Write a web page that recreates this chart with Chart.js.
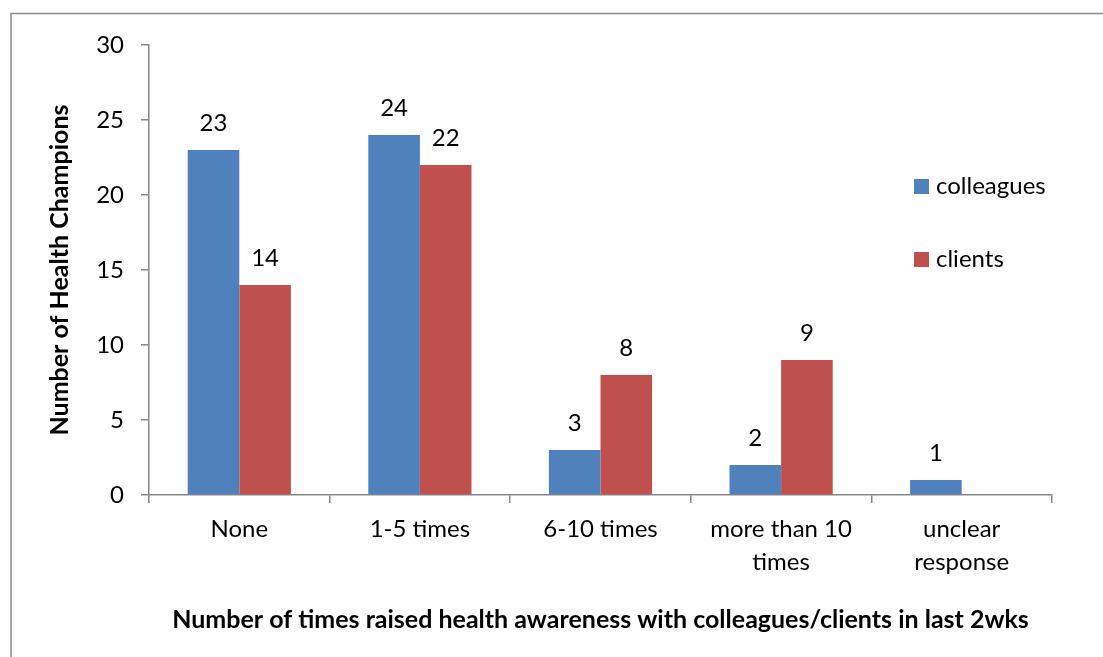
<!DOCTYPE html>
<html>
<head>
<meta charset="utf-8">
<script src="https://cdn.jsdelivr.net/npm/chart.js@4"></script>
<style>
  body { margin: 0; background: #fff; }
  #wrap { width: 1103px; height: 657px; position: relative; }
</style>
</head>
<body>
<div id="wrap"><canvas id="chart"></canvas></div>
<script>
const categories = ["None", "1-5 times", "6-10 times", ["more than 10", "times"], ["unclear", "response"]];
const colleagues = [23, 24, 3, 2, 1];
const clients = [14, 22, 8, 9, null];
const yTicks = [0, 5, 10, 15, 20, 25, 30];

const FONT = "Lato, 'Open Sans', sans-serif";
const AXIS = "#868686";

// value labels over each bar
const barLabels = {
  id: "barLabels",
  afterDatasetsDraw(chart) {
    const ctx = chart.ctx;
    ctx.save();
    ctx.font = "24px " + FONT;
    ctx.fillStyle = "#000";
    ctx.textAlign = "center";
    ctx.textBaseline = "middle";
    chart.data.datasets.forEach((ds, i) => {
      chart.getDatasetMeta(i).data.forEach((bar, j) => {
        if (ds.data[j] == null) return;
        ctx.fillText(ds.data[j], bar.x, bar.y - 27);
      });
    });
    ctx.restore();
  }
};

// legend sits inside the plot area like the Excel original
const sideLegend = {
  id: "sideLegend",
  afterDraw(chart) {
    const ctx = chart.ctx;
    ctx.save();
    ctx.font = "24px " + FONT;
    ctx.textBaseline = "middle";
    chart.data.datasets.forEach((ds, i) => {
      const y = 186 + i * 73;
      ctx.fillStyle = ds.backgroundColor;
      ctx.fillRect(914, y - 7, 15, 15);
      ctx.fillStyle = "#000";
      ctx.fillText(ds.label, 936, y);
    });
    ctx.restore();
  }
};

const frame = {
  id: "frame",
  beforeDraw(chart) {
    const ctx = chart.ctx;
    ctx.save();
    ctx.strokeStyle = "#8c8c8c";
    ctx.lineWidth = 1.5;
    ctx.strokeRect(11, 13.5, 1200, 1000);
    ctx.restore();
  }
};

new Chart(document.getElementById("chart"), {
  type: "bar",
  data: {
    labels: categories,
    datasets: [
      { label: "colleagues", data: colleagues, backgroundColor: "#4F81BD" },
      { label: "clients", data: clients, backgroundColor: "#C0504D" }
    ]
  },
  options: {
    responsive: true,
    maintainAspectRatio: false,
    animation: false,
    layout: { padding: { top: 45, right: 51, left: 0, bottom: 0 } },
    datasets: { bar: { categoryPercentage: 2 / 3.5, barPercentage: 1 } },
    plugins: { legend: { display: false }, tooltip: { enabled: false } },
    scales: {
      x: {
        afterFit: (s) => { s.height = 162; },
        grid: { drawOnChartArea: false, drawTicks: true, tickLength: 8, color: AXIS, lineWidth: 1.5 },
        border: { color: AXIS, width: 1.5 },
        ticks: { color: "#000", padding: 9, font: { family: FONT, size: 24, lineHeight: 1.4 }, maxRotation: 0 },
        title: {
          display: true,
          text: "Number of times raised health awareness with colleagues/clients in last 2wks",
          color: "#000",
          font: { family: FONT, size: 25, weight: "bold", lineHeight: 1.2 },
          padding: { top: 0, bottom: 22 }
        }
      },
      y: {
        min: 0,
        max: 30,
        afterFit: (s) => { s.width = 149; },
        afterBuildTicks: (s) => { s.ticks = yTicks.map(v => ({ value: v })); },
        grid: { drawOnChartArea: false, drawTicks: true, tickLength: 8, color: AXIS, lineWidth: 1.5 },
        border: { color: AXIS, width: 1.5 },
        ticks: { color: "#000", padding: 17, font: { family: FONT, size: 24 } },
        title: {
          display: true,
          text: "Number of Health Champions",
          color: "#000",
          font: { family: FONT, size: 25, weight: "bold", lineHeight: 1.2 },
          padding: { top: 45, bottom: 0 }
        }
      }
    }
  },
  plugins: [frame, barLabels, sideLegend]
});
</script>
</body>
</html>
